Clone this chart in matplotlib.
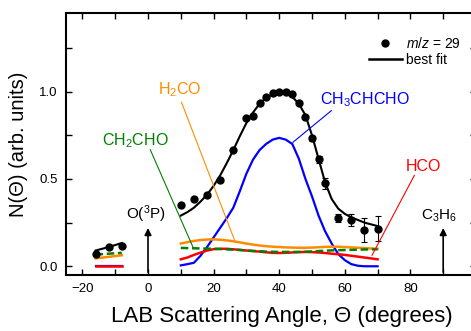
import numpy as np
import matplotlib
matplotlib.use("Agg")
import matplotlib.pyplot as plt
from matplotlib.ticker import MultipleLocator
from matplotlib.lines import Line2D

plt.rcParams['font.family'] = ['Liberation Sans', 'DejaVu Sans']
plt.rcParams['mathtext.fontset'] = 'custom'
plt.rcParams['mathtext.rm'] = 'Liberation Sans'
plt.rcParams['mathtext.it'] = 'Liberation Sans:italic'

# measured m/z = 29 angular distribution
angle_pts = [-16, -12, -8, 10, 14, 18, 22, 26, 30, 32, 34, 36, 38, 40, 42, 44,
             46, 48, 50, 52, 54, 58, 62, 66, 70]
n_pts = [0.07, 0.11, 0.118, 0.353, 0.383, 0.41, 0.495, 0.665, 0.85, 0.863,
         0.935, 0.967, 0.99, 0.995, 1.0, 0.987, 0.937, 0.855, 0.733, 0.612,
         0.475, 0.278, 0.263, 0.206, 0.215]
n_err = [0.01, 0.01, 0.01, 0.01, 0.01, 0.01, 0.01, 0.01, 0.01, 0.01,
         0.01, 0.01, 0.01, 0.01, 0.01, 0.01, 0.01, 0.01, 0.015, 0.02,
         0.03, 0.024, 0.035, 0.068, 0.072]

# simulated contributions, left group (-16..-8) and main group (10..70)
angle_left = [-16, -12, -8]
fit_left = [0.09, 0.11, 0.133]
ch2cho_left = [0.067, 0.072, 0.077]
h2co_left = [0.045, 0.054, 0.063]
hco_left = [0.003, 0.003, 0.003]
ch3chcho_left = [0.0, 0.0, 0.0]

angle_main = list(range(10, 72, 2))
fit_main = [0.29, 0.31, 0.335, 0.37, 0.41, 0.46, 0.52, 0.59, 0.665, 0.745,
            0.82, 0.88, 0.93, 0.965, 0.985, 0.995, 0.99, 0.97, 0.93, 0.865,
            0.75, 0.615, 0.48, 0.385, 0.33, 0.30, 0.28, 0.265, 0.25, 0.24, 0.23]
ch3chcho_main = [0.005, 0.012, 0.02, 0.06, 0.11, 0.165, 0.22, 0.275, 0.335,
                 0.43, 0.53, 0.61, 0.665, 0.70, 0.725, 0.735, 0.725, 0.70,
                 0.615, 0.50, 0.40, 0.29, 0.20, 0.13, 0.07, 0.035, 0.012,
                 0.003, 0.0, 0.0, 0.0]
h2co_main = [0.13, 0.138, 0.145, 0.15, 0.153, 0.154, 0.152, 0.148, 0.143,
             0.137, 0.13, 0.124, 0.119, 0.115, 0.112, 0.11, 0.108, 0.107,
             0.106, 0.106, 0.107, 0.109, 0.111, 0.112, 0.112, 0.11, 0.108,
             0.106, 0.104, 0.102, 0.10]
ch2cho_main = [0.105, 0.104, 0.103, 0.102, 0.101, 0.1, 0.099, 0.097, 0.095,
               0.093, 0.09, 0.088, 0.086, 0.084, 0.083, 0.082, 0.082, 0.082,
               0.082, 0.083, 0.085, 0.087, 0.089, 0.091, 0.092, 0.093, 0.094,
               0.095, 0.096, 0.097, 0.097]
hco_main = [0.04, 0.05, 0.065, 0.078, 0.09, 0.098, 0.1, 0.1, 0.097, 0.094,
            0.09, 0.087, 0.084, 0.08, 0.077, 0.076, 0.077, 0.079, 0.081,
            0.082, 0.081, 0.079, 0.076, 0.072, 0.069, 0.065, 0.06, 0.055,
            0.05, 0.045, 0.04]

BLACK = 'black'
BLUE = '#0000ff'
ORANGE = '#ff8c00'
GREEN = '#008000'
RED = '#ff0000'

fig = plt.figure(figsize=(4.71, 3.31), dpi=100)
ax = fig.add_axes([66 / 471, 56 / 331, 410 / 471, 262 / 331])

for xs, fit, ch3, h2, ch2, hco in [
        (angle_left, fit_left, ch3chcho_left, h2co_left, ch2cho_left, hco_left),
        (angle_main, fit_main, ch3chcho_main, h2co_main, ch2cho_main, hco_main)]:
    ax.plot(xs, ch3, color=BLUE, lw=1.6)
    ax.plot(xs, hco, color=RED, lw=1.8)
    ax.plot(xs, h2, color=ORANGE, lw=1.8)
    ax.plot(xs, ch2, color=GREEN, lw=1.8, ls=(0, (3, 1.5)))
    ax.plot(xs, fit, color=BLACK, lw=1.5)

ax.errorbar(angle_pts, n_pts, yerr=n_err, fmt='o', color=BLACK, ms=5,
            capsize=2.5, elinewidth=0.8, capthick=0.8)

# labels with pointer lines
ax.text(3.0, 1.01, 'H$_2$CO', color=ORANGE, fontsize=11.5, ha='left', va='center')
ax.plot([10.2, 26.4], [0.939, 0.149], color=ORANGE, lw=0.8)
ax.text(-14, 0.72, 'CH$_2$CHO', color=GREEN, fontsize=11.5, ha='left', va='center')
ax.plot([0.7, 13.7], [0.667, 0.11], color=GREEN, lw=0.8)
ax.text(52.5, 0.955, 'CH$_3$CHCHO', color=BLUE, fontsize=11.5, ha='left', va='center')
ax.plot([55.9, 44.2], [0.891, 0.71], color=BLUE, lw=0.8)
ax.text(78.6, 0.57, 'HCO', color=RED, fontsize=11.5, ha='left', va='center')
ax.plot([81.2, 68.3], [0.52, 0.063], color=RED, lw=0.8)

# reactant beam directions
ax.annotate('', xy=(0, 0.235), xytext=(0, -0.05),
            arrowprops=dict(arrowstyle='-|>', color=BLACK, lw=1.2, mutation_scale=10))
ax.text(-0.5, 0.235, 'O($^3$P)', fontsize=11, ha='center', va='bottom')
ax.annotate('', xy=(90, 0.235), xytext=(90, -0.05),
            arrowprops=dict(arrowstyle='-|>', color=BLACK, lw=1.2, mutation_scale=10))
ax.text(88.8, 0.24, 'C$_3$H$_6$', fontsize=11, ha='center', va='bottom')

handles = [Line2D([], [], marker='o', ls='none', color=BLACK, ms=5),
           Line2D([], [], color=BLACK, lw=1.8)]
ax.legend(handles, ['$m/z$ = 29', 'best fit'], loc='upper left',
          bbox_to_anchor=(0.725, 0.935), frameon=False, fontsize=10,
          handlelength=2.4, handletextpad=0.3, labelspacing=0.15,
          borderaxespad=0)

ax.set_xlim(-25, 100)
ax.set_ylim(-0.05, 1.45)
ax.xaxis.set_major_locator(MultipleLocator(20))
ax.xaxis.set_minor_locator(MultipleLocator(10))
ax.yaxis.set_major_locator(MultipleLocator(0.5))
ax.yaxis.set_minor_locator(MultipleLocator(0.25))
ax.set_xticks([-20, 0, 20, 40, 60, 80])
ax.tick_params(which='both', direction='in', top=True, right=True,
               length=4, width=1, labelsize=9.5)
ax.tick_params(axis='x', pad=6)
ax.tick_params(axis='y', pad=6)
for sp in ax.spines.values():
    sp.set_linewidth(1.5)

ax.set_xlabel('LAB Scattering Angle, Θ (degrees)', fontsize=16)
ax.xaxis.set_label_coords(0.527, -0.12)
ax.set_ylabel('N(Θ) (arb. units)', fontsize=14.5, labelpad=8)

fig.savefig('out.png', dpi=100)
